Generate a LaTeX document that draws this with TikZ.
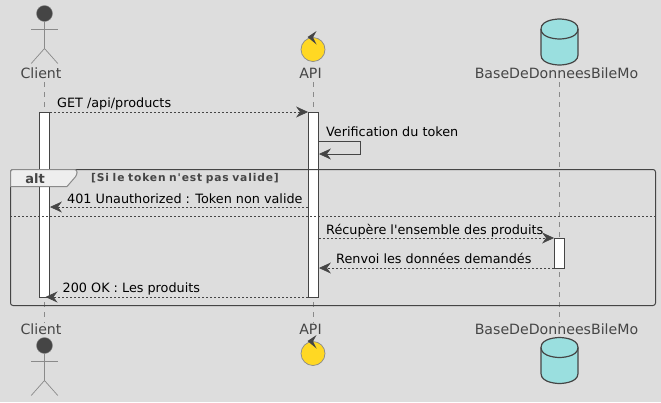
\documentclass[tikz,border=0pt]{standalone}
\usepackage{fontspec}
\setmainfont{DejaVu Sans}[Ligatures=TeXOff]
\usetikzlibrary{arrows.meta, positioning}
\definecolor{bgcol}{HTML}{DDDDDD}
\definecolor{inkcol}{HTML}{454545}
\definecolor{lifecol}{HTML}{8A8A8A}
\definecolor{ctrlcol}{HTML}{FFD823}
\definecolor{dbcol}{HTML}{9ADFDF}
\definecolor{tabcol}{HTML}{EEEEEE}
\tikzstyle{party} = [inner sep=0, text=inkcol, font=\fontsize{14.15}{16}\selectfont]
\tikzstyle{msg} = [inner sep=0, anchor=base west, text=black, font=\fontsize{12.8}{15}\selectfont]
\tikzstyle{bar} = [rectangle, inner sep=0, minimum width=10pt, draw=inkcol, line width=0.9pt, fill=white]
\tikzstyle{life} = [draw=lifecol, line width=0.6pt, dash pattern=on 5pt off 5pt]
\tikzstyle{edge} = [draw=inkcol, line width=0.7pt, -{Stealth[length=12pt, width=11pt, inset=4pt, fill=inkcol]}]
\tikzstyle{reply} = [edge, dash pattern=on 2pt off 2pt]
\tikzset{
  actoricon/.pic={
    \draw[lifecol, line width=0.7pt] (0,8) -- (0,35) (-13.3,16) -- (13.3,16) (-13.3,50) -- (0,35) -- (13.3,50);
    \fill[inkcol, draw=lifecol, line width=0.4pt] (0,0) circle (8);
  },
  ctrlicon/.pic={
    \draw[lifecol, fill=ctrlcol, line width=0.7pt] (0,0) circle (12);
    \fill[inkcol] (-5.5,-12.5) -- (3.5,-18.5) -- (0,-12) -- (3.5,-5) -- cycle;
  },
  dbicon/.pic={
    \draw[inkcol, fill=dbcol, line width=1.2pt] (-18.5,-13) .. controls (-18.5,-23) and (0,-23) .. (0,-23) .. controls (0,-23) and (18.5,-23) .. (18.5,-13)
      -- (18.5,13) .. controls (18.5,23) and (0,23) .. (0,23) .. controls (0,23) and (-18.5,23) .. (-18.5,13) -- cycle;
    \draw[inkcol, line width=1.2pt] (-18.5,-13) .. controls (-18.5,-3) and (0,-3) .. (0,-3) .. controls (0,-3) and (18.5,-3) .. (18.5,-13);
  }
}

\begin{document}
\begin{tikzpicture}[x=1pt, y=-1pt]
\useasboundingbox[fill=bgcol] (0,0) rectangle (661,402);

% participants
\pic at (44.5,13.5) {actoricon};
\pic at (44.5,345.5) {actoricon};
\pic at (313,49.5) {ctrlicon};
\pic at (313,353.5) {ctrlicon};
\pic at (559.5,42) {dbicon};
\pic at (559.5,360.5) {dbicon};

\node (clienttop) [party] at (41,73) {Client};
\node (apitop) [party] at (310.5,73) {API};
\node (dbtop) [party] at (556.5,73) {BaseDeDonneesBileMo};
\node (clientbot) [party] at (41,329) {Client};
\node (apibot) [party] at (310.5,329) {API};
\node (dbbot) [party] at (556.5,329) {BaseDeDonneesBileMo};

\coordinate (c1) at (44.5,82);
\coordinate (c2) at (44.5,323);
\coordinate (a1) at (313,82);
\coordinate (a2) at (313,323);
\coordinate (d1) at (559.5,82);
\coordinate (d2) at (559.5,323);
\draw [life] (c1) -- (c2);
\draw [life] (a1) -- (a2);
\draw [life] (d1) -- (d2);

% activations
\node (clientbar) [bar, minimum height=185pt] at (44.5,204.5) {};
\node (apibar) [bar, minimum height=185pt] at (313.5,204.5) {};
\node (dbbar) [bar, minimum height=30pt] at (559.5,253) {};

% alt
\node (altframe) [draw=inkcol, line width=1pt, rounded corners=2.5pt, minimum width=645pt, minimum height=136pt, inner sep=0] at (333,237.5) {};
\coordinate (e1) at (altframe.west |- 0,216);
\coordinate (e2) at (altframe.east |- 0,216);
\draw [draw=inkcol, line width=0.7pt, dash pattern=on 2pt off 2pt] (e1) -- (e2);
\draw [draw=lifecol, line width=1pt, fill=tabcol, rounded corners=2.5pt] (10.5,186.5) -- (10.5,169.5) -- (77,169.5) -- (77,175) [sharp corners] -- (67,186.5) -- cycle;
\node (alt) [inner sep=0, text=inkcol, font=\bfseries\fontsize{13}{15}\selectfont] at (35,178.5) {alt};
\node (cond) [inner sep=0, anchor=base west, text=inkcol, font=\bfseries\fontsize{10.7}{11}\selectfont, text width=200pt] at (91,181.5) {\addfontfeature{LetterSpace=8}[Si le token n'est pas valide]};

% messages
\coordinate (s1) at (apibar.east |- 0,141);
\coordinate (s2) at (360.5,141);
\coordinate (s3) at (360.5,154);
\coordinate (s4) at (apibar.east |- 0,154);
\draw [reply] (clientbar.east |- 0,112) -- (apibar.west |- 0,112);
\draw [edge] (s1) -- (s2) -- (s3) -- (s4);
\draw [reply] (apibar.west |- 0,207) -- (clientbar.east |- 0,207);
\draw [reply] (apibar.east |- 0,238) -- (dbbar.west |- 0,238);
\draw [reply] (dbbar.west |- 0,268) -- (apibar.east |- 0,268);
\draw [reply] (apibar.west |- 0,297) -- (45.5,297);

\node (getmsg) [msg] at (57,107) {GET /api/products};
\node (verifmsg) [msg] at (326,136) {Verification du token};
\node (errmsg) [msg] at (67,203) {401 Unauthorized : Token non valide};
\node (fetchmsg) [msg] at (326,234.5) {Récupère l'ensemble des produits};
\node (backmsg) [msg] at (336,263) {Renvoi les données demandés};
\node (okmsg) [msg] at (62.5,292) {200 OK : Les produits};
\end{tikzpicture}
\end{document}
